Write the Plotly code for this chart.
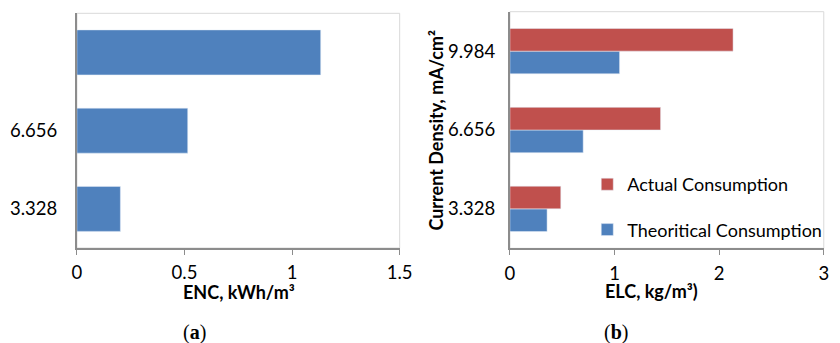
import plotly.graph_objects as go

# Current density categories (mA/cm²)
current_density = ["3.328", "6.656", "9.984"]
left_tick_labels = ["3.328", "6.656", ""]

# (a) energy consumption, kWh/m³
enc = [0.202, 0.515, 1.133]

# (b) electrode consumption, kg/m³
elc_theoretical = [0.355, 0.70, 1.048]
elc_actual = [0.486, 1.44, 2.133]

BLUE = "#4f81bd"
RED = "#c0504d"
FONT = "Lato"
W, H = 840, 343

fig = go.Figure()

fig.add_trace(go.Bar(
    x=enc, y=current_density, orientation="h", marker_color=BLUE,
    showlegend=False, xaxis="x", yaxis="y",
))
fig.add_trace(go.Bar(
    x=elc_theoretical, y=current_density, orientation="h", marker_color=BLUE,
    name="Theoritical Consumption", legendgroup="t", legendrank=2,
    xaxis="x2", yaxis="y2",
))
fig.add_trace(go.Bar(
    x=elc_actual, y=current_density, orientation="h", marker_color=RED,
    name="Actual Consumption", legendgroup="a", legendrank=1,
    xaxis="x2", yaxis="y2",
))

def px_x(p):
    return p / W

def px_y(p):
    return 1 - p / H

axis_line = "#8c8c8c"
tick_font = dict(family=FONT, size=18.5, color="#000000")

common_x = dict(
    showgrid=False, zeroline=False, showline=True, linecolor=axis_line, linewidth=2,
    ticks="outside", ticklen=5, tickcolor=axis_line, tickfont=tick_font,
    ticklabelstandoff=2,
)
common_y = dict(
    type="category", showgrid=False, zeroline=False, showline=True,
    linecolor=axis_line, linewidth=2, ticks="", tickfont=tick_font,
)

fig.update_layout(
    width=W, height=H,
    margin=dict(l=0, r=0, t=0, b=0),
    paper_bgcolor="white", plot_bgcolor="white",
    barmode="group", bargap=0.425, bargroupgap=0,
    xaxis=dict(common_x, domain=[px_x(73.5), px_x(403.3)], range=[0, 1.5],
               tickvals=[0, 0.5, 1, 1.5], ticktext=["0", "0.5", "1", "1.5"],
               anchor="y"),
    yaxis=dict(common_y, domain=[px_y(248), px_y(13.3)], anchor="x",
               categoryorder="array", categoryarray=current_density,
               tickvals=current_density, ticktext=left_tick_labels,
               ticklabelstandoff=14),
    xaxis2=dict(common_x, domain=[px_x(516), px_x(836.7)], range=[0, 3],
                tickvals=[0, 1, 2, 3], anchor="y2"),
    yaxis2=dict(common_y, domain=[px_y(248.3), px_y(11.7)], anchor="x2",
                categoryorder="array", categoryarray=current_density,
                ticklabelstandoff=9),
    legend=dict(
        x=px_x(595), y=px_y(166), xanchor="left", yanchor="top",
        traceorder="grouped", tracegroupgap=19,
        bgcolor="rgba(0,0,0,0)", font=dict(family=FONT, size=18, color="#000000"),
    ),
    showlegend=True,
)

# light plot-area frames
for xr, yr in (("x domain", "y domain"), ("x2 domain", "y2 domain")):
    fig.add_shape(type="rect", xref=xr, yref=yr, x0=0, x1=1, y0=0, y1=1,
                  line=dict(color="#d9d9d9", width=1), layer="below")

title_font = dict(family=FONT, size=18, color="#000000")
caption_font = dict(family="Liberation Serif", size=20, color="#000000")

annotations = [
    dict(text="<b>ENC, kWh/m³</b>", x=px_x(239), y=px_y(292), font=title_font),
    dict(text="<b>ELC, kg/m³)</b>", x=px_x(661), y=px_y(291), font=title_font),
    dict(text="<b>Current Density, mA/cm²</b>", x=px_x(440), y=px_y(130),
         textangle=-90, font=title_font),
    dict(text="(<b>a</b>)", x=px_x(194), y=px_y(332), font=caption_font),
    dict(text="(<b>b</b>)", x=px_x(624), y=px_y(332), font=caption_font),
]
for a in annotations:
    fig.add_annotation(xref="paper", yref="paper", showarrow=False,
                       xanchor="center", yanchor="middle", **a)

fig.write_html("out.html")
